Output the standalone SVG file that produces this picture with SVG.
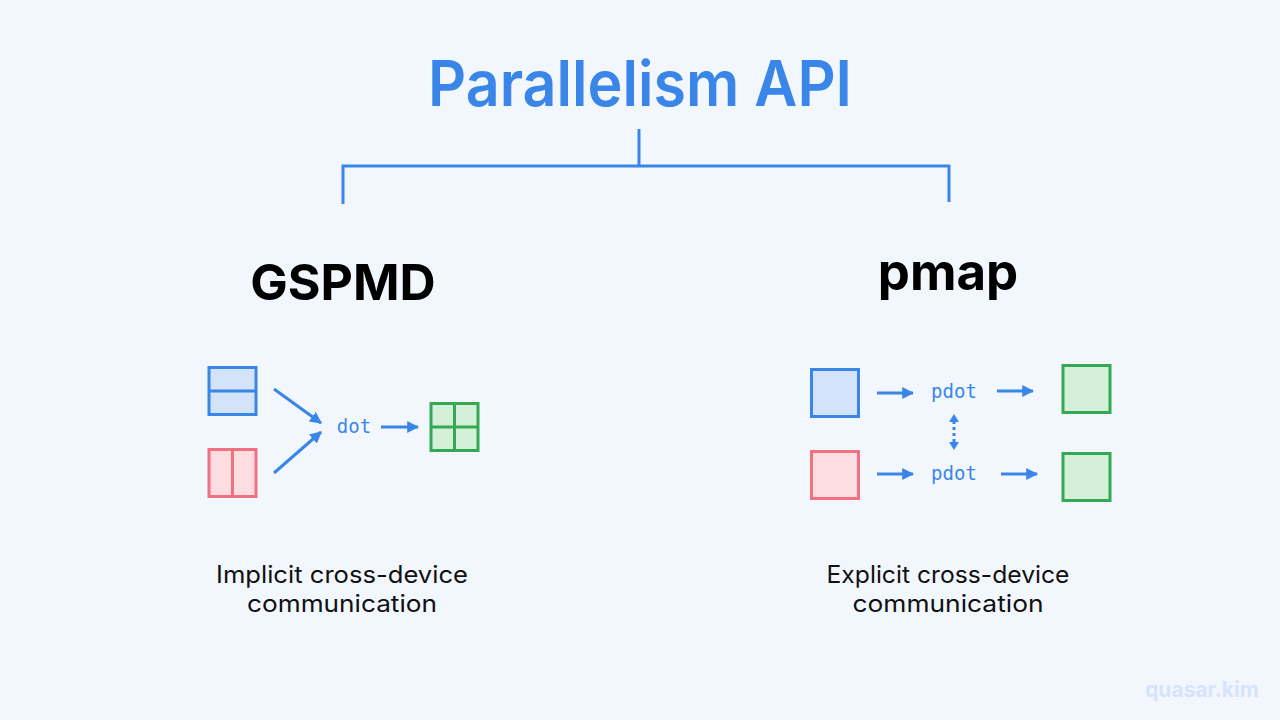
<svg xmlns="http://www.w3.org/2000/svg" width="1280" height="720" viewBox="0 0 1280 720">
<defs>
<marker id="ah" viewBox="0 0 10 10" refX="9" refY="5" markerWidth="4" markerHeight="4" markerUnits="strokeWidth" orient="auto-start-reverse">
<path d="M0,0 L10,5 L0,10 z" fill="#3a86e8"/>
</marker>
<style>
.blue{fill:#d3e3fa;stroke:#3a86e8;stroke-width:3}
.pink{fill:#fddde0;stroke:#f2707f;stroke-width:3}
.green{fill:#d4f0d8;stroke:#34a853;stroke-width:3}
.div-b{stroke:#3a86e8;stroke-width:3}
.div-p{stroke:#f2707f;stroke-width:3}
.div-g{stroke:#34a853;stroke-width:3}
.arr{stroke:#3a86e8;stroke-width:3;fill:none;marker-end:url(#ah)}
.op{font-family:"DejaVu Sans Mono","Liberation Mono",monospace;font-size:19px;fill:#3a86e8;text-anchor:middle}
.cap{font-family:Inter,"Noto Sans",sans-serif;font-size:24px;fill:#111;text-anchor:middle}
.head{font-family:Inter,"Noto Sans",sans-serif;font-weight:700;fill:#000;text-anchor:middle}
</style>
</defs>
<rect width="1280" height="720" fill="#f2f7fe"/>
<g id="title">
<text x="640" y="106" font-family="Inter,'Noto Sans',sans-serif" font-weight="600" font-size="63" fill="#3a86e8" text-anchor="middle" textLength="424" lengthAdjust="spacingAndGlyphs">Parallelism API</text>
</g>
<g id="connectors" fill="none" stroke="#3a86e8" stroke-width="3">
<path d="M639,129 V166"/>
<path d="M343,204 V166 H949 V202"/>
</g>
<g id="gspmd">
<text class="head" x="343" y="300" font-size="50">GSPMD</text>
<rect class="blue" x="209" y="367.5" width="47" height="47"/>
<line class="div-b" x1="209" y1="391" x2="256" y2="391"/>
<rect class="pink" x="209" y="449.5" width="47" height="47"/>
<line class="div-p" x1="232.5" y1="449.5" x2="232.5" y2="496.5"/>
<line class="arr" x1="274" y1="389" x2="321" y2="423"/>
<line class="arr" x1="274" y1="473" x2="321" y2="432"/>
<text class="op" x="354" y="433">dot</text>
<line class="arr" x1="381" y1="427" x2="418" y2="427"/>
<rect class="green" x="431" y="403.5" width="47" height="47"/>
<line class="div-g" x1="454.5" y1="403.5" x2="454.5" y2="450.5"/>
<line class="div-g" x1="431" y1="427" x2="478" y2="427"/>
<text class="cap" x="342" y="583" textLength="252" lengthAdjust="spacingAndGlyphs">Implicit cross-device</text>
<text class="cap" x="342" y="612" textLength="190" lengthAdjust="spacingAndGlyphs">communication</text>
</g>
<g id="pmap">
<text class="head" x="948" y="290" font-size="51">pmap</text>
<rect class="blue" x="811.5" y="369.5" width="47" height="47"/>
<rect class="pink" x="811.5" y="451.5" width="47" height="47"/>
<line class="arr" x1="877" y1="393" x2="913" y2="393"/>
<text class="op" x="954" y="398">pdot</text>
<line class="arr" x1="997" y1="391" x2="1033" y2="391"/>
<rect class="green" x="1063" y="365.5" width="47" height="47"/>
<line class="arr" x1="877" y1="474" x2="913" y2="474"/>
<text class="op" x="954" y="480">pdot</text>
<line class="arr" x1="1001" y1="474" x2="1037" y2="474"/>
<rect class="green" x="1063" y="453.5" width="47" height="47"/>
<line stroke="#3a86e8" stroke-width="3" stroke-dasharray="3,3" x1="954" y1="421" x2="954" y2="443"/>
<path d="M949,422 L954,414 L959,422 z M949,442 L954,450 L959,442 z" fill="#3a86e8"/>
<text class="cap" x="948" y="583" textLength="243" lengthAdjust="spacingAndGlyphs">Explicit cross-device</text>
<text class="cap" x="948" y="612" textLength="191" lengthAdjust="spacingAndGlyphs">communication</text>
</g>
<g id="watermark">
<text x="1202" y="697" font-family="Inter,'Noto Sans',sans-serif" font-weight="700" font-size="21" fill="#d6e4fb" text-anchor="middle">quasar.kim</text>
</g>
</svg>
